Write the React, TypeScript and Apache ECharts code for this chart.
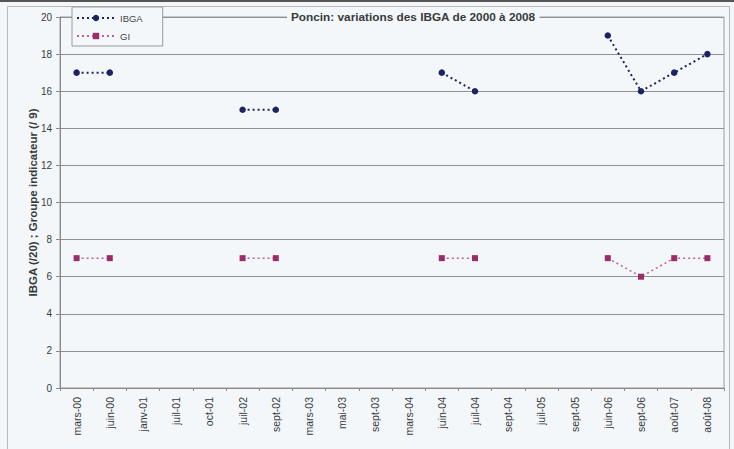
import React, { useEffect, useRef } from "react";
import * as echarts from "echarts";

const categories = [
  "mars-00", "juin-00", "janv-01", "juil-01", "oct-01", "juil-02", "sept-02",
  "mars-03", "mai-03", "sept-03", "mars-04", "juin-04", "juil-04", "sept-04",
  "juil-05", "sept-05", "juin-06", "sept-06", "août-07", "août-08",
];
const ibga = [17, 17, null, null, null, 15, 15, null, null, null, null, 17, 16, null, null, null, 19, 16, 17, 18];
const gi = [7, 7, null, null, null, 7, 7, null, null, null, null, 7, 7, null, null, null, 7, 6, 7, 7];

const titleText = "Poncin: variations des IBGA de 2000 à 2008";
const yName = "IBGA (/20) ; Groupe indicateur (/ 9)";

export default function App() {
  const ref = useRef<HTMLDivElement>(null);
  useEffect(() => {
    if (!ref.current) return;
    const chart = echarts.init(ref.current, null, { renderer: "svg" });
    const bg = "#f3f7fa";
    chart.setOption({
      animation: false,
      backgroundColor: bg,
      textStyle: { fontFamily: "Liberation Sans, Arial, sans-serif" },
      title: {
        text: titleText,
        left: 287,
        top: 10,
        padding: [1, 4],
        backgroundColor: bg,
        textStyle: { fontSize: 11.8, fontWeight: "bold", color: "#3a3a3a" },
      },
      legend: {
        orient: "vertical",
        left: 72,
        top: 7,
        width: 76,
        itemGap: 8,
        itemWidth: 38,
        itemHeight: 8,
        padding: [6, 20, 5, 4],
        borderColor: "#9a9a9a",
        borderWidth: 1,
        backgroundColor: bg,
        textStyle: { fontSize: 9.5, color: "#444" },
        data: ["IBGA", "GI"],
      },
      graphic: [
        {
          type: "rect",
          shape: { x: 7.5, y: 6.5, width: 722, height: 450 },
          style: { fill: "none", stroke: "#b5b9bd", lineWidth: 1 },
          silent: true,
        },
        {
          type: "rect",
          shape: { x: 0, y: 0, width: 734, height: 2 },
          style: { fill: "#555" },
          silent: true,
        },
      ],
      grid: {
        left: 60,
        right: 10,
        top: 17,
        bottom: 61,
        show: true,
        borderColor: "#9a9a9a",
        borderWidth: 1,
        backgroundColor: "transparent",
      },
      xAxis: {
        type: "category",
        data: categories,
        boundaryGap: true,
        axisLine: { lineStyle: { color: "#8a8a8a" } },
        axisTick: { show: true, alignWithLabel: false, length: 3, inside: false, lineStyle: { color: "#8a8a8a" } },
        axisLabel: { rotate: 90, fontSize: 10.5, color: "#3a3a3a", margin: 9 },
      },
      yAxis: {
        type: "value",
        min: 0,
        max: 20,
        interval: 2,
        name: yName,
        nameLocation: "middle",
        nameGap: 21,
        nameMoveOverlap: false,
        nameTextStyle: { fontSize: 11.5, fontWeight: "bold", color: "#3a3a3a" },
        axisLine: { show: true, lineStyle: { color: "#8a8a8a" } },
        axisTick: { show: true, length: 4, lineStyle: { color: "#8a8a8a" } },
        axisLabel: { fontSize: 10, color: "#3a3a3a", margin: 8 },
        splitLine: { lineStyle: { color: "#8e9194", width: 1 } },
      },
      series: [
        {
          name: "IBGA",
          type: "line",
          data: ibga,
          connectNulls: false,
          symbol: "circle",
          symbolSize: 6.5,
          itemStyle: { color: "#1e2260" },
          lineStyle: { color: "#1e2260", width: 2, type: [2, 3] },
        },
        {
          name: "GI",
          type: "line",
          data: gi,
          connectNulls: false,
          symbol: "rect",
          symbolSize: 6,
          itemStyle: { color: "#9a2c66" },
          lineStyle: { color: "#c06090", width: 1.5, type: [2, 3] },
        },
      ],
    });
    return () => chart.dispose();
  }, []);
  return (
    <div
      ref={ref}
      style={{ position: "fixed", left: 0, top: 0, width: 734, height: 449 }}
    />
  );
}
